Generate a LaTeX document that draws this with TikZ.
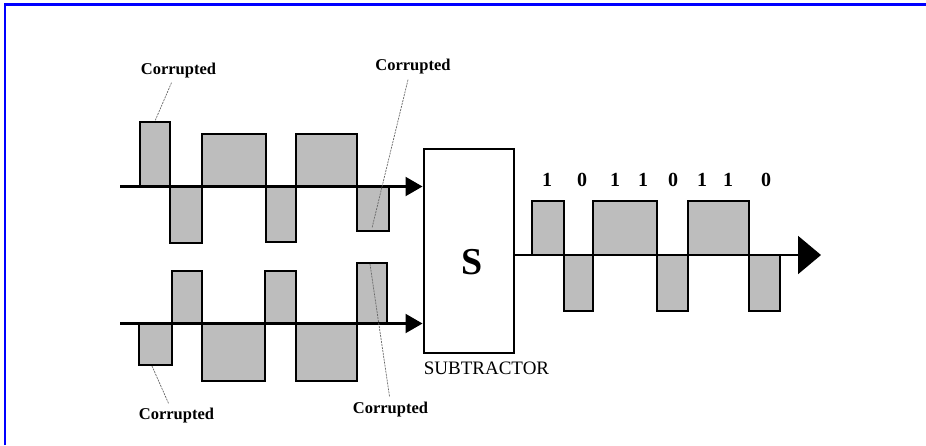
\documentclass[tikz,border=0pt]{standalone}
\usepackage{fontspec}
\setmainfont{Liberation Serif}
\usetikzlibrary{arrows.meta}
\begin{document}
\begin{tikzpicture}[x=1pt,y=-1pt,
  pulse/.style={fill=black!26,draw=black,line width=2.2pt},
  axis/.style={draw=black,line width=2.2pt},
  lbl/.style={font=\fontsize{16.5}{16.5}\selectfont\bfseries,inner sep=0pt},
  lead/.style={draw=black!60,line width=0.7pt,dash pattern=on 2pt off 1pt},
  digit/.style={font=\fontsize{20}{20}\selectfont\bfseries,inner sep=0pt}]
\useasboundingbox (0,0) rectangle (926,445);
% border
\draw[blue,line width=2.2pt] (5,445) -- (5,4.5) -- (926,4.5);
% top waveform
\draw[pulse] (140,186.5) rectangle (170,122);
\draw[pulse] (170,186.5) rectangle (202,243);
\draw[pulse] (202,186.5) rectangle (266,134);
\draw[pulse] (266,186.5) rectangle (296,242);
\draw[pulse] (296,186.5) rectangle (357,134);
\draw[pulse] (357,186.5) rectangle (389,231);
% bottom waveform
\draw[pulse] (139,323.5) rectangle (172,365);
\draw[pulse] (172,323.5) rectangle (202,271);
\draw[pulse] (202,323.5) rectangle (265,381);
\draw[pulse] (265,323.5) rectangle (296,271);
\draw[pulse] (296,323.5) rectangle (357,381);
\draw[pulse] (357,323.5) rectangle (387,263);
% subtractor
\node[draw=black,line width=2pt,fill=white,minimum width=90pt,minimum height=204pt,inner sep=0pt] (sub) at (468.5,250.5) {};
\node[font=\fontsize{38}{38}\selectfont\bfseries,inner sep=0pt] (s) at (472.5,262) {S};
\node[font=\fontsize{19}{19}\selectfont,inner sep=0pt] (subl) at (486.5,368) {SUBTRACTOR};
% input arrows
\coordinate (i1) at (120,186.5);
\coordinate (i2) at (120,323.5);
\draw[axis,-{Triangle[length=17pt,width=19pt]}] (i1) -- (i1 -| sub.west);
\draw[axis,-{Triangle[length=17pt,width=19pt]}] (i2) -- (i2 -| sub.west);
% output waveform
\draw[pulse] (532,255) rectangle (564,201);
\draw[pulse] (564,255) rectangle (593,311);
\draw[pulse] (593,255) rectangle (657,201);
\draw[pulse] (657,255) rectangle (688,311);
\draw[pulse] (688,255) rectangle (749,201);
\draw[pulse] (749,255) rectangle (780,311);
\coordinate (o) at (821,255);
\draw[axis,-{Triangle[length=23pt,width=38pt]}] (sub.east |- o) -- (o);
% digits
\foreach \x/\d [count=\i] in {547/1,582/0,615/1,643/1,673/0,702/1,728/1,766/0}
  \node[digit] (d\i) at (\x,180) {\d};
% corrupted labels
\node[lbl] (c1) at (178.5,71) {Corrupted};
\node[lbl] (c2) at (413,67) {Corrupted};
\node[lbl] (c3) at (176.5,416) {Corrupted};
\node[lbl] (c4) at (390.5,410) {Corrupted};
\coordinate (p1) at (155,121);
\coordinate (p2) at (372,228);
\coordinate (p3) at (152,366);
\coordinate (p4) at (370,264);
\draw[lead] (c1.south) ++(-7,4) -- (p1);
\draw[lead] (c2.south) ++(-5,5) -- (p2);
\draw[lead] (c3.north) ++(-8,-5) -- (p3);
\draw[lead] (c4.north) ++(-1,-6) -- (p4);
\end{tikzpicture}
\end{document}
